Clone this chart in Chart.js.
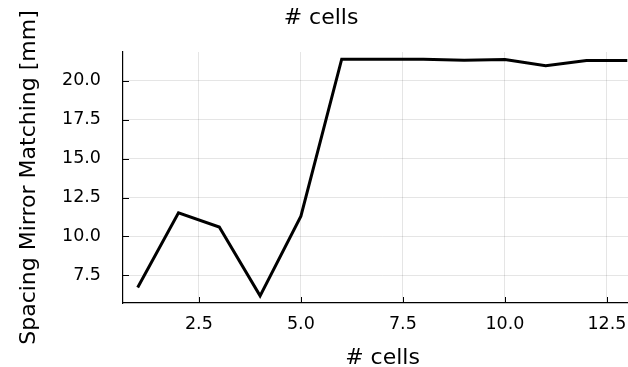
<!DOCTYPE html>
<html>
<head>
<meta charset="utf-8">
<script src="https://cdn.jsdelivr.net/npm/chart.js@4"></script>
<style>
  html, body { margin: 0; padding: 0; background: #fff; overflow: hidden; }
  #wrap { position: relative; width: 642px; height: 370px; }
</style>
</head>
<body>
<div id="wrap"><canvas id="chart"></canvas></div>
<script>
// data
const cells = [1, 2, 3, 4, 5, 6, 7, 8, 9, 10, 11, 12, 13];
const spacing = [6.72, 11.52, 10.6, 6.18, 11.3, 21.4, 21.4, 21.4, 21.33, 21.38, 20.98, 21.32, 21.32];
const xTicks = [2.5, 5.0, 7.5, 10.0, 12.5];
const yTicks = [7.5, 10.0, 12.5, 15.0, 17.5, 20.0];

const FONT = "'DejaVu Sans', sans-serif";

// short tick marks pointing into the plot, like the original
const innerTicks = {
    id: "innerTicks",
    afterDatasetsDraw(chart) {
        const { ctx, chartArea, scales } = chart;
        ctx.save();
        ctx.strokeStyle = "#000";
        ctx.lineWidth = 1;
        ctx.beginPath();
        xTicks.forEach(v => {
            const x = Math.round(scales.x.getPixelForValue(v)) + 0.5;
            ctx.moveTo(x, chartArea.bottom);
            ctx.lineTo(x, chartArea.bottom - 6);
        });
        yTicks.forEach(v => {
            const y = Math.round(scales.y.getPixelForValue(v)) + 0.5;
            ctx.moveTo(chartArea.left, y);
            ctx.lineTo(chartArea.left + 6, y);
        });
        ctx.stroke();
        ctx.restore();
    }
};

new Chart(document.getElementById("chart"), {
    type: "line",
    data: {
        datasets: [{
            data: cells.map((c, i) => ({ x: c, y: spacing[i] })),
            borderColor: "#000",
            borderWidth: 3,
            pointRadius: 0,
            tension: 0,
            fill: false
        }]
    },
    options: {
        responsive: true,
        maintainAspectRatio: false,
        animation: false,
        layout: { padding: 0 },
        plugins: {
            legend: { display: false },
            tooltip: { enabled: false },
            title: {
                display: true,
                text: "# cells",
                color: "#000",
                font: { family: FONT, size: 22, weight: "normal", lineHeight: 1 },
                padding: { top: 7, bottom: 23 }
            }
        },
        scales: {
            x: {
                type: "linear",
                min: 0.64,
                max: 13.36,
                afterBuildTicks: scale => { scale.ticks = xTicks.map(v => ({ value: v })); },
                afterFit: scale => { scale.height = 67; },
                ticks: {
                    color: "#000",
                    padding: 11,
                    maxRotation: 0,
                    font: { family: FONT, size: 17.5 },
                    callback: v => v.toFixed(1)
                },
                grid: { color: "rgba(0,0,0,0.1)", drawTicks: false },
                border: { color: "#000", width: 1.2 },
                title: {
                    display: true,
                    text: "# cells",
                    color: "#000",
                    font: { family: FONT, size: 22, lineHeight: 1 },
                    padding: { top: 0, bottom: 1 }
                }
            },
            y: {
                type: "linear",
                min: 5.72,
                max: 21.86,
                afterBuildTicks: scale => { scale.ticks = yTicks.map(v => ({ value: v })); },
                afterFit: scale => { scale.width = 123; },
                ticks: {
                    color: "#000",
                    padding: 22,
                    font: { family: FONT, size: 17.5 },
                    callback: v => v.toFixed(1)
                },
                grid: { color: "rgba(0,0,0,0.1)", drawTicks: false },
                border: { color: "#000", width: 1.2 },
                title: {
                    display: true,
                    text: "Spacing Mirror Matching [mm]",
                    color: "#000",
                    font: { family: FONT, size: 22, lineHeight: 1 },
                    padding: { top: 18, bottom: 0 }
                }
            }
        }
    },
    plugins: [innerTicks]
});
</script>
</body>
</html>
